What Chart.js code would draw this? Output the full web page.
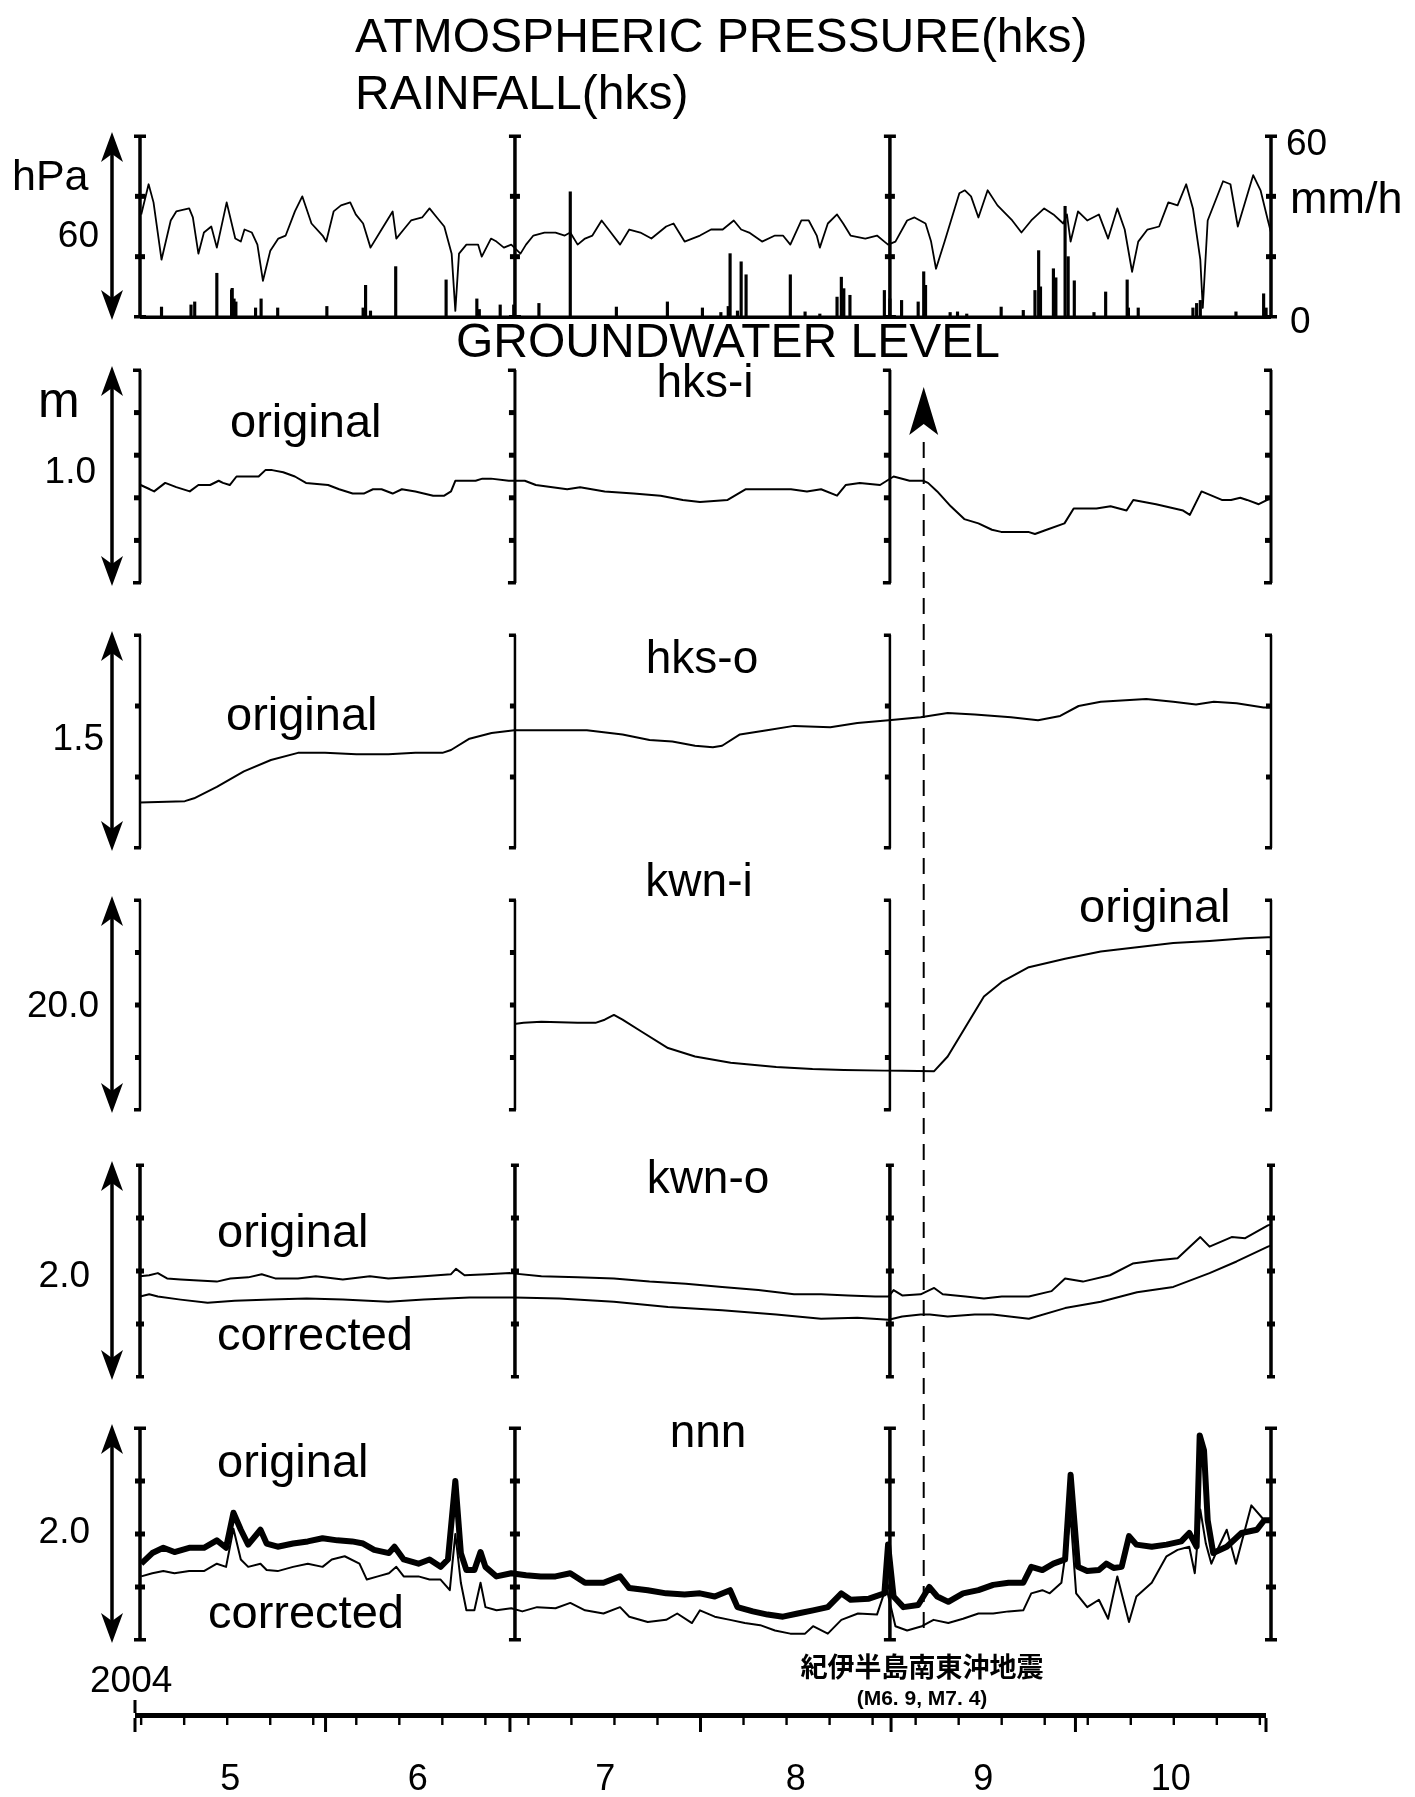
<!DOCTYPE html>
<html>
<head>
<meta charset="utf-8">
<script src="https://cdn.jsdelivr.net/npm/chart.js@4.4.1/dist/chart.umd.min.js"></script>
<style>
  html, body { margin: 0; padding: 0; background: #fff; }
  #page { position: relative; width: 1415px; height: 1797px; overflow: hidden; background: #fff; }
  #page canvas { position: absolute; left: 0; top: 0; }
  .lbl { position: absolute; white-space: nowrap; line-height: 1; color: #000;
         font-family: 'Liberation Sans', Arial, sans-serif; }
</style>
</head>
<body>
<div id="page"></div>
<script>
// x values are days counted from 2004-05-01 (May 1 = 0, Nov 1 = 184)
// panel bars as they sit in the figure (the Sep 1 bar is drawn about a day early there)
const PANEL_AXIS_DAYS = [0, 61, 122, 184];
const MONTH_START_DAYS = [0, 31, 61, 92, 123, 153, 184];
const MONTH_LABELS = ['5', '6', '7', '8', '9', '10'];
const WEEK_TICK_DAYS = [1, 8, 15, 22, 29, 36, 43, 50, 57, 64, 71, 78, 85, 99, 106, 113, 120, 127,
  134, 141, 148, 155, 162, 169, 176, 183];
const QUAKE_DAY = 127.5; // 2004-09-05

// atmospheric pressure, hPa relative to the bottom of the 60 hPa scale bar
const pressure = [[0.2,34],[1.4,44],[2.2,38],[3.5,19],[5.0,32],[5.9,35],[8.0,36],[8.6,33],[9.5,21],
  [10.4,28],[11.6,30],[12.5,23],[14.1,38],[15.5,26],[16.4,25],[17.0,29],[18.2,28],[19.1,24],[20.0,12],
  [21.2,22],[22.5,26],[23.7,27],[25.2,35],[26.4,40],[27.9,31],[29.7,27],[30.3,25],[31.5,35],[32.7,37],
  [34.2,38],[35.1,34],[36.3,31],[37.5,23],[39.3,29],[41.1,35],[41.7,26],[42.9,29],[44.1,32],[45.9,33],
  [47.1,36],[48.3,33],[49.5,30],[50.7,21],[51.3,2],[51.9,21],[53.1,24],[55.0,24],[55.6,20],[57.1,26],
  [58.0,25],[59.2,23],[60.4,24],[61.9,21],[62.8,24],[64.0,27],[65.8,28],[67.6,28],[69.1,27],[70.0,28],
  [71.2,24],[72.4,26],[73.6,27],[75.1,32],[76.6,28],[78.1,24],[79.6,29],[81.4,28],[83.2,26],[85.6,30],
  [86.8,31],[88.6,25],[91.1,27],[92.9,29],[94.8,29],[96.6,32],[97.8,29],[99.1,28],[101.2,25],[103.3,27],
  [104.6,27],[105.8,24],[107.6,32],[108.8,32],[110.1,27],[110.6,23],[111.9,31],[113.4,34],[114.4,31],
  [115.6,27],[118.0,26],[119.9,27],[121.1,25],[121.7,24],[122.9,25],[124.8,32],[126.0,33],[127.8,31],
  [128.7,25],[129.5,16],[130.9,25],[133.3,41],[134.2,42],[135.2,40],[136.4,33],[137.9,42],[139.5,37],
  [141.9,32],[143.4,28],[145.0,32],[147.1,36],[148.6,34],[150.2,31],[150.8,34],[151.4,25],[152.6,35],
  [154.1,32],[156.0,34],[157.5,26],[159.0,36],[160.2,29],[161.4,15],[162.4,25],[163.9,29],[165.8,30],
  [167.3,38],[168.8,37],[170.2,44],[171.3,36],[172.5,19],[172.9,3],[173.7,32],[176.2,45],[177.4,44],
  [178.6,30],[181.1,47],[182.3,42],[183.5,32],[184,28]];

// hourly rainfall, mm/h
const rainfall = [[3.5,3.3],[8.3,4],[8.9,5],[12.5,14.5],[14.9,9],[15.0,9.5],[15.3,6],[15.6,5],[18.8,3],
  [19.7,6],[22.4,3],[30.4,3.5],[36.3,3],[36.7,10.5],[37.5,2],[41.6,16.7],[49.8,12.3],[54.8,6],[55.2,2.5],
  [58.6,4],[60.8,4],[64.9,4.5],[70.0,41.5],[77.5,3.3],[85.8,5],[91.5,3],[94.5,1.5],[95.7,3.5],[96.0,21],
  [97.2,2],[97.8,18.3],[98.6,14],[105.8,14],[108.2,1.7],[110.6,1],[113.4,6.6],[114.1,13.2],[114.5,9.4],
  [115.5,7.2],[121.1,8.8],[122.0,6],[123.9,5.5],[126.6,5],[127.5,15],[127.8,10.5],[131.8,1.5],[133.0,1.7],
  [134.5,1],[140.1,3.3],[143.7,2.2],[145.6,8.8],[146.2,22],[146.5,10],[148.6,16],[149.0,13],[150.5,36.7],
  [151.0,20],[152.0,12],[155.2,1.5],[157.1,8.3],[160.6,12.3],[160.8,3],[162.4,3],[171.3,3],[171.9,4.5],
  [172.5,5.5],[178.3,1.7],[182.8,7.7],[183.2,3]];

// groundwater levels, m relative to the bottom of each scale bar
const hksI = [[0.1,0.46],[1.6,0.44],[2.3,0.43],[4.1,0.47],[5.9,0.45],[8.1,0.43],[9.5,0.46],[11.4,0.46],
  [12.8,0.48],[13.5,0.47],[14.6,0.46],[15.7,0.50],[17.9,0.50],[19.3,0.50],[20.4,0.53],[21.5,0.53],
  [23.3,0.52],[25.2,0.50],[27.0,0.47],[30.6,0.46],[32.4,0.44],[34.6,0.42],[36.4,0.42],[37.9,0.44],
  [39.3,0.44],[41.1,0.42],[42.6,0.44],[44.8,0.43],[47.7,0.41],[49.5,0.41],[50.6,0.43],[51.3,0.48],
  [52.8,0.48],[54.6,0.48],[55.7,0.49],[57.1,0.49],[60.0,0.48],[62.6,0.48],[64.4,0.46],[69.5,0.44],
  [71.6,0.45],[75.6,0.43],[80.3,0.42],[84.7,0.41],[88.3,0.39],[91.1,0.38],[95.6,0.39],[98.5,0.44],
  [102.2,0.44],[105.9,0.44],[108.5,0.43],[110.8,0.44],[113.4,0.41],[114.8,0.46],[117.1,0.47],[120.4,0.46],
  [121.5,0.48],[122.6,0.50],[125.2,0.48],[127.4,0.48],[128.2,0.47],[129.7,0.43],[131.9,0.36],[134.1,0.30],
  [136.4,0.28],[138.6,0.25],[140.1,0.24],[144.5,0.24],[145.6,0.23],[147.5,0.25],[150.4,0.28],[151.9,0.35],
  [155.6,0.35],[157.9,0.36],[160.5,0.34],[161.6,0.39],[165.3,0.37],[169.7,0.34],[170.8,0.32],[172.7,0.43],
  [176.0,0.39],[177.5,0.39],[179.0,0.40],[180.1,0.39],[182.0,0.37],[183.4,0.39],[184,0.40]];

const hksO = [[0,0.32],[7.3,0.33],[8.8,0.35],[12.5,0.43],[16.9,0.54],[21.3,0.62],[25.7,0.67],[30.1,0.67],
  [35.2,0.66],[40.4,0.66],[44.8,0.67],[49.2,0.67],[50.6,0.69],[53.6,0.77],[57.2,0.81],[60.9,0.83],
  [66.8,0.83],[72.7,0.83],[78.5,0.80],[82.9,0.76],[86.6,0.75],[90.3,0.72],[93.2,0.71],[94.7,0.72],
  [97.6,0.80],[102.0,0.83],[106.4,0.86],[112.3,0.85],[116.7,0.88],[121.8,0.90],[127.0,0.92],[131.4,0.95],
  [135.8,0.94],[141.7,0.92],[146.1,0.90],[149.7,0.93],[152.7,1.00],[156.3,1.03],[163.7,1.05],[168.1,1.03],
  [171.8,1.01],[174.7,1.03],[178.4,1.02],[182.8,0.99],[184,0.99]];

const kwnI = [[60.9,8.2],[62.4,8.3],[65.3,8.4],[71.2,8.3],[74.1,8.3],[75.6,8.6],[77.1,9.05],[78.5,8.6],
  [81.5,7.5],[85.9,5.9],[90.3,5.1],[96.1,4.5],[103.5,4.1],[109.4,3.9],[114.5,3.8],[121.1,3.75],[124.0,3.75],
  [129.2,3.7],[131.4,5.1],[134.3,7.9],[137.3,10.8],[140.2,12.2],[144.6,13.6],[150.5,14.4],[156.3,15.1],
  [162.2,15.5],[168.1,15.9],[174.0,16.1],[179.8,16.35],[183.5,16.45],[184,16.45]];

const kwnOOriginal = [[0,0.95],[1.5,0.96],[2.9,0.98],[4.4,0.93],[6.6,0.92],[9.5,0.91],[12.5,0.90],
  [14.7,0.93],[17.6,0.94],[19.8,0.97],[22.0,0.93],[25.7,0.93],[28.6,0.95],[33.0,0.92],[37.4,0.95],
  [40.4,0.93],[46.2,0.95],[50.6,0.97],[51.4,1.02],[52.8,0.96],[56.5,0.97],[60.2,0.98],[65.3,0.95],
  [71.2,0.94],[77.1,0.93],[82.9,0.90],[88.8,0.88],[94.7,0.85],[100.6,0.82],[106.4,0.78],[110.8,0.78],
  [115.2,0.77],[119.6,0.76],[121.8,0.76],[122.6,0.82],[124.0,0.77],[127.0,0.78],[129.2,0.84],[130.6,0.78],
  [134.3,0.76],[137.3,0.74],[140.2,0.76],[144.6,0.76],[148.3,0.81],[150.5,0.93],[153.4,0.90],[157.8,0.96],
  [161.5,1.07],[165.2,1.10],[168.8,1.12],[172.5,1.32],[174.0,1.23],[177.6,1.32],[179.8,1.31],[183.5,1.43],
  [184,1.44]];

const kwnOCorrected = [[0,0.76],[1.5,0.78],[2.9,0.76],[6.6,0.73],[11.0,0.70],[15.4,0.72],[21.3,0.73],
  [27.1,0.74],[33.0,0.73],[40.4,0.71],[46.2,0.73],[53.6,0.75],[60.9,0.75],[68.2,0.74],[77.1,0.71],
  [85.9,0.66],[94.7,0.63],[103.5,0.59],[110.8,0.55],[116.7,0.56],[121.8,0.54],[124.0,0.57],[127.0,0.59],
  [128.5,0.59],[131.4,0.57],[135.8,0.59],[138.7,0.59],[144.6,0.55],[150.5,0.65],[156.3,0.71],[162.2,0.80],
  [168.1,0.85],[174.0,0.98],[178.4,1.09],[183.5,1.23],[184,1.24]];

const nnnOriginal = [[0.2,0.72],[2.0,0.82],[3.8,0.87],[5.6,0.83],[8.0,0.87],[10.4,0.87],[12.5,0.94],
  [14.0,0.87],[15.2,1.2],[16.4,1.04],[17.6,0.90],[19.6,1.04],[20.6,0.91],[22.4,0.88],[24.9,0.91],[27.3,0.93],
  [29.7,0.96],[32.1,0.94],[34.5,0.93],[36.3,0.91],[38.1,0.85],[40.5,0.82],[41.4,0.88],[42.9,0.76],[45.3,0.72],
  [47.1,0.76],[48.9,0.69],[50.1,0.76],[51.3,1.5],[52.2,0.82],[53.1,0.66],[54.4,0.66],[55.4,0.83],[56.2,0.69],
  [58.0,0.60],[60.4,0.63],[62.8,0.61],[65.2,0.60],[67.6,0.60],[70.0,0.63],[72.4,0.54],[75.4,0.54],[78.1,0.60],
  [79.6,0.49],[82.6,0.47],[85.6,0.44],[88.6,0.43],[91.1,0.44],[93.5,0.41],[96.0,0.47],[97.2,0.31],[99.7,0.27],
  [102.1,0.24],[104.6,0.22],[107.0,0.25],[109.5,0.28],[111.9,0.31],[114.1,0.44],[115.6,0.38],[118.6,0.39],
  [121.1,0.44],[121.7,0.9],[122.6,0.41],[124.2,0.31],[126.6,0.33],[128.4,0.50],[129.7,0.41],[131.5,0.36],
  [133.9,0.44],[136.4,0.47],[138.8,0.52],[141.3,0.54],[143.7,0.54],[145.0,0.69],[146.8,0.66],[148.6,0.72],
  [150.5,0.76],[151.4,1.56],[152.6,0.69],[154.1,0.65],[156.0,0.66],[157.2,0.72],[158.4,0.68],[159.7,0.69],
  [160.9,0.98],[162.1,0.90],[164.6,0.88],[167.0,0.90],[169.4,0.93],[170.7,1.01],[171.9,0.88],[172.4,1.93],
  [173.1,1.79],[173.7,1.13],[174.6,0.82],[176.8,0.88],[179.2,1.01],[181.7,1.04],[182.9,1.13],[184,1.13]];

const nnnCorrected = [[0.2,0.60],[2.0,0.63],[3.8,0.65],[5.6,0.63],[8.0,0.65],[10.4,0.65],[12.5,0.72],
  [14.0,0.69],[15.2,1.05],[16.4,0.76],[17.6,0.69],[19.6,0.72],[20.6,0.66],[22.4,0.65],[24.9,0.69],[27.3,0.72],
  [29.7,0.69],[31.2,0.76],[33.3,0.79],[35.7,0.72],[36.9,0.57],[38.7,0.60],[40.5,0.63],[41.7,0.69],[42.9,0.60],
  [45.3,0.60],[47.1,0.57],[48.9,0.57],[50.4,0.47],[51.3,1.0],[52.2,0.54],[53.1,0.28],[54.4,0.28],[55.4,0.54],
  [56.2,0.31],[58.0,0.28],[60.4,0.30],[62.2,0.27],[64.6,0.31],[67.6,0.30],[70.0,0.35],[72.4,0.28],[75.4,0.25],
  [78.1,0.31],[79.6,0.22],[82.6,0.17],[85.6,0.19],[87.4,0.25],[89.8,0.16],[91.1,0.28],[93.5,0.22],[96.0,0.19],
  [98.4,0.16],[100.9,0.14],[103.3,0.09],[105.8,0.06],[108.2,0.06],[109.5,0.13],[111.9,0.06],[114.1,0.19],
  [116.8,0.25],[119.9,0.24],[121.4,0.5],[122.9,0.13],[124.8,0.09],[127.2,0.13],[129.1,0.19],[131.5,0.16],
  [133.9,0.20],[136.4,0.25],[138.8,0.25],[141.3,0.27],[143.7,0.28],[145.0,0.44],[146.8,0.47],[148.0,0.44],
  [149.9,0.54],[151.4,1.16],[152.3,0.44],[154.1,0.31],[156.0,0.38],[157.5,0.20],[159.0,0.60],[160.9,0.17],
  [162.1,0.41],[164.6,0.54],[167.0,0.79],[168.8,0.85],[170.7,0.88],[171.6,0.63],[172.5,1.23],[173.4,0.91],
  [174.3,0.72],[175.5,0.88],[176.8,1.04],[178.3,0.72],[180.8,1.27],[182.9,1.13],[184,1.15]];

const W = 1415, H = 1797;
const PLOT_LEFT = 140, PLOT_RIGHT = 1271;
const page = document.getElementById('page');

function addText(text, x, baseline, size, align = 'left', extra = {}) {
  const d = document.createElement('div');
  d.className = 'lbl';
  d.textContent = text;
  d.style.fontSize = size + 'px';
  d.style.top = (baseline - 0.8465 * size) + 'px';
  if (align === 'left') d.style.left = x + 'px';
  else if (align === 'center') { d.style.left = x + 'px'; d.style.transform = 'translateX(-50%)'; }
  else d.style.right = (W - x) + 'px';
  Object.assign(d.style, extra);
  page.appendChild(d);
  return d;
}

function makeCanvas() {
  const c = document.createElement('canvas');
  c.width = W; c.height = H;
  c.style.width = W + 'px'; c.style.height = H + 'px';
  page.appendChild(c);
  return c;
}

function doubleArrow(ctx, x, y0, y1) {
  const hw = 11, hl = 30, notch = 8;
  ctx.lineWidth = 3.5;
  ctx.beginPath(); ctx.moveTo(x, y0 + hl - notch); ctx.lineTo(x, y1 - hl + notch); ctx.stroke();
  ctx.beginPath();
  ctx.moveTo(x, y0); ctx.lineTo(x + hw, y0 + hl); ctx.lineTo(x, y0 + hl - notch); ctx.lineTo(x - hw, y0 + hl);
  ctx.closePath(); ctx.fill();
  ctx.beginPath();
  ctx.moveTo(x, y1); ctx.lineTo(x + hw, y1 - hl); ctx.lineTo(x, y1 - hl + notch); ctx.lineTo(x - hw, y1 - hl);
  ctx.closePath(); ctx.fill();
}

// axis bars with tick nubs, end caps and the scale-bar arrow of each panel
const framePlugin = {
  id: 'frame',
  afterDatasetsDraw(chart, args, o) {
    const { ctx, scales: { x, y } } = chart;
    const top = y.getPixelForValue(y.max), bottom = y.getPixelForValue(y.min);
    ctx.save();
    ctx.fillStyle = '#000'; ctx.strokeStyle = '#000';
    for (const d of PANEL_AXIS_DAYS) {
      const px = x.getPixelForValue(d);
      ctx.fillRect(px - o.lw / 2, top, o.lw, bottom - top);
      ctx.fillRect(px - o.capL, top - 1.5, o.capL + o.capR, 3.5);
      ctx.fillRect(px - o.capL, bottom - 2, o.capL + o.capR, 3.5);
      for (let v = y.min + o.step; v < y.max - 1e-9; v += o.step) {
        const py = y.getPixelForValue(v);
        ctx.fillRect(px - o.nubL, py - 2.5, o.nubL + o.nubR, 5);
      }
    }
    if (o.baseline) ctx.fillRect(x.left, bottom - 1.5, x.right - x.left, 3.5);
    doubleArrow(ctx, o.arrowX, top - 4, bottom + 3);
    ctx.restore();
  }
};

// dashed earthquake marker with its arrow head
const quakePlugin = {
  id: 'quake',
  afterDraw(chart, args, o) {
    if (!o.on) return;
    const { ctx, scales: { x } } = chart;
    const px = x.getPixelForValue(QUAKE_DAY);
    ctx.save();
    ctx.fillStyle = '#000'; ctx.strokeStyle = '#000';
    ctx.beginPath();
    ctx.moveTo(px, 387); ctx.lineTo(px + 14.5, 435); ctx.lineTo(px, 424); ctx.lineTo(px - 14.5, 435);
    ctx.closePath(); ctx.fill();
    ctx.lineWidth = 2; ctx.setLineDash([16, 10]);
    ctx.beginPath(); ctx.moveTo(px, 442); ctx.lineTo(px, 1634); ctx.stroke();
    ctx.restore();
  }
};

const toXY = (arr) => arr.map(([d, v]) => ({ x: d, y: v }));

function lineSet(arr, width = 2) {
  return { type: 'line', data: toXY(arr), borderColor: '#000', borderWidth: width, pointRadius: 0,
           tension: 0, fill: false, borderJoinStyle: 'round' };
}

function panel(cfg) {
  return new Chart(makeCanvas(), {
    type: 'line',
    data: { datasets: cfg.datasets },
    options: {
      responsive: false, animation: false, events: [],
      layout: { padding: { left: PLOT_LEFT, right: W - PLOT_RIGHT, top: cfg.top, bottom: H - cfg.bottom } },
      scales: {
        x: { type: 'linear', min: 0, max: 184, offset: false, display: false },
        y: { type: 'linear', min: 0, max: cfg.max, display: false },
      },
      plugins: {
        legend: { display: false }, tooltip: { enabled: false },
        frame: Object.assign({ step: cfg.step, arrowX: 112 }, cfg.frame),
        quake: { on: !!cfg.quake },
      },
    },
    plugins: [framePlugin, quakePlugin],
  });
}

// 1: pressure + rainfall (both 0..60 on the same bar)
panel({
  top: 136, bottom: 317, max: 60, step: 20,
  frame: { lw: 3.5, capL: 6, capR: 6, nubL: 5, nubR: 5, baseline: true },
  datasets: [
    { type: 'bar', data: toXY(rainfall), backgroundColor: '#000', barThickness: 2.5, grouped: false },
    lineSet(pressure, 1.8),
  ],
});
// 2: hks-i
panel({ top: 370, bottom: 583, max: 1.0, step: 0.2, quake: true,
  frame: { lw: 3, capL: 7, capR: 1, nubL: 6, nubR: 1 }, datasets: [lineSet(hksI)] });
// 3: hks-o
panel({ top: 635, bottom: 848, max: 1.5, step: 0.5,
  frame: { lw: 2.5, capL: 6, capR: 1, nubL: 5, nubR: 1 }, datasets: [lineSet(hksO)] });
// 4: kwn-i
panel({ top: 900, bottom: 1110, max: 20, step: 5,
  frame: { lw: 2.5, capL: 6, capR: 1, nubL: 5, nubR: 1 }, datasets: [lineSet(kwnI)] });
// 5: kwn-o
panel({ top: 1165, bottom: 1377, max: 2.0, step: 0.5,
  frame: { lw: 3.5, capL: 4, capR: 4, nubL: 4, nubR: 4 },
  datasets: [lineSet(kwnOOriginal), lineSet(kwnOCorrected)] });
// 6: nnn
panel({ top: 1428, bottom: 1640, max: 2.0, step: 0.5,
  frame: { lw: 3.5, capL: 6, capR: 6, nubL: 5, nubR: 5 },
  datasets: [lineSet(nnnOriginal, 6), lineSet(nnnCorrected, 2)] });

// time axis
const timelinePlugin = {
  id: 'timeline',
  afterDraw(chart) {
    const { ctx, scales: { x }, chartArea: a } = chart;
    ctx.save();
    ctx.fillStyle = '#000';
    ctx.fillRect(a.left, a.top, a.right - a.left, a.bottom - a.top);
    for (const d of WEEK_TICK_DAYS) ctx.fillRect(x.getPixelForValue(d) - 1.2, a.bottom, 2.4, 7);
    for (const d of MONTH_START_DAYS) ctx.fillRect(x.getPixelForValue(d) - 1.5, a.bottom, 3, 14);
    ctx.fillRect(x.getPixelForValue(0) - 1.5, a.top - 13, 3, 13);
    ctx.restore();
  }
};
const timeline = new Chart(makeCanvas(), {
  type: 'line',
  data: { datasets: [] },
  options: {
    responsive: false, animation: false, events: [],
    layout: { padding: { left: 135, right: W - 1266, top: 1713, bottom: H - 1718 } },
    scales: { x: { type: 'linear', min: 0, max: 184, offset: false, display: false },
              y: { display: false, min: 0, max: 1 } },
    plugins: { legend: { display: false }, tooltip: { enabled: false } },
  },
  plugins: [timelinePlugin],
});
MONTH_LABELS.forEach((m, i) => {
  const mid = (MONTH_START_DAYS[i] + MONTH_START_DAYS[i + 1]) / 2;
  addText(m, timeline.scales.x.getPixelForValue(mid), 1790, 36, 'center');
});

// text
addText('ATMOSPHERIC PRESSURE(hks)', 355, 53, 48);
addText('RAINFALL(hks)', 355, 110, 48);
addText('hPa', 12, 190, 43);
addText('60', 99, 247, 37, 'right');
addText('60', 1286, 155, 37);
addText('mm/h', 1290, 213, 45);
addText('0', 1290, 333, 37);

addText('GROUNDWATER LEVEL', 728, 358, 48, 'center');
addText('hks-i', 705, 397, 46, 'center');
addText('m', 38, 417, 50);
addText('original', 230, 437, 47);
addText('1.0', 96, 483, 37, 'right');

addText('hks-o', 702, 673, 46, 'center');
addText('original', 226, 730, 47);
addText('1.5', 104, 750, 37, 'right');

addText('kwn-i', 699, 896, 46, 'center');
addText('original', 1079, 922, 47);
addText('20.0', 99, 1017, 37, 'right');

addText('kwn-o', 708, 1193, 46, 'center');
addText('original', 217, 1247, 47);
addText('corrected', 217, 1350, 47);
addText('2.0', 90, 1287, 37, 'right');

addText('nnn', 708, 1447, 46, 'center');
addText('original', 217, 1477, 47);
addText('corrected', 208, 1628, 47);
addText('2.0', 90, 1543, 37, 'right');

addText('2004', 90, 1692, 37);
addText('紀伊半島南東沖地震', 922, 1675, 27, 'center',
  { fontFamily: "'Noto Sans CJK JP', sans-serif", fontWeight: 'bold' });
addText('(M6. 9, M7. 4)', 922, 1705, 21, 'center', { fontWeight: 'bold' });
</script>
</body>
</html>
